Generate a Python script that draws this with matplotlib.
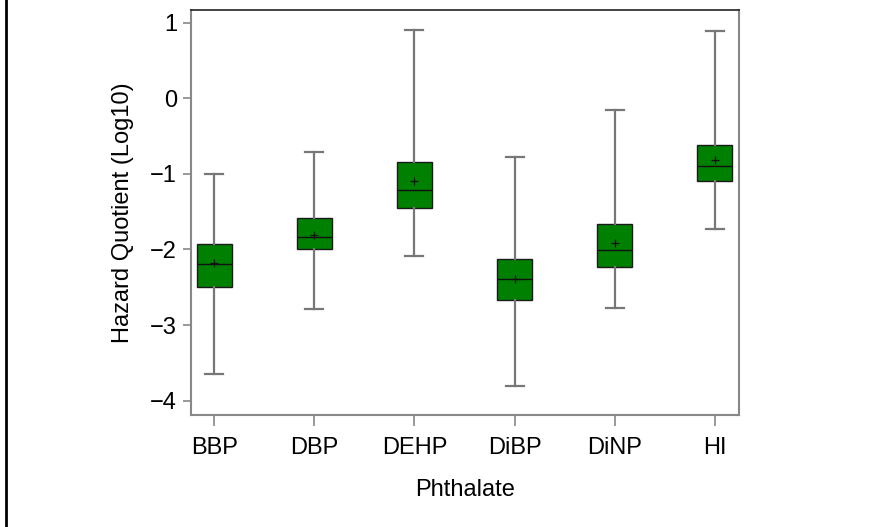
import matplotlib.pyplot as plt
from matplotlib.lines import Line2D

plt.rcParams["font.family"] = ["Liberation Sans", "DejaVu Sans"]

# Resumen por ftalato (log10 del cociente de riesgo)
ftalatos = ["BBP", "DBP", "DEHP", "DiBP", "DiNP", "HI"]
bigote_sup = [-1.00, -0.71, 0.90, -0.77, -0.16, 0.89]
q3 = [-1.93, -1.59, -0.84, -2.13, -1.66, -0.62]
mediana = [-2.19, -1.83, -1.21, -2.39, -2.01, -0.90]
media = [-2.18, -1.81, -1.09, -2.39, -1.92, -0.82]
q1 = [-2.49, -1.99, -1.45, -2.67, -2.23, -1.10]
bigote_inf = [-3.65, -2.79, -2.09, -3.81, -2.77, -1.73]

stats = []
for i, nombre in enumerate(ftalatos):
    stats.append({
        "label": nombre,
        "whishi": bigote_sup[i],
        "q3": q3[i],
        "med": mediana[i],
        "mean": media[i],
        "q1": q1[i],
        "whislo": bigote_inf[i],
        "fliers": [],
    })

fig = plt.figure(figsize=(8.77, 5.27), dpi=100)
ax = fig.add_axes([0.2178, 0.2125, 0.6249, 0.7685])

ax.bxp(
    stats,
    positions=range(1, len(ftalatos) + 1),
    widths=0.35,
    patch_artist=True,
    showmeans=True,
    showfliers=False,
    capwidths=0.18,
    boxprops=dict(facecolor="#008000", edgecolor="#1a1a1a", linewidth=1.0),
    medianprops=dict(color="#111111", linewidth=1.0),
    whiskerprops=dict(color="#777777", linewidth=1.6),
    capprops=dict(color="#777777", linewidth=1.6),
    meanprops=dict(marker="+", markersize=6, markeredgecolor="#111111",
                   markeredgewidth=0.9),
)

ax.set_xlim(0.767, 6.243)
ax.set_ylim(-4.19, 1.168)
ax.set_yticks([1, 0, -1, -2, -3, -4])
ax.set_yticklabels(["1", "0", "\u22121", "\u22122", "\u22123", "\u22124"])

for lado in ["left", "bottom", "right"]:
    ax.spines[lado].set_color("#888888")
    ax.spines[lado].set_linewidth(1.5)
ax.spines["top"].set_color("#222222")
ax.spines["top"].set_linewidth(1.2)

ax.tick_params(axis="x", length=8, width=1.2, color="#888888", labelsize=17, pad=8)
ax.tick_params(axis="y", length=6, width=1.2, color="#888888", labelsize=17, pad=4)

ax.set_xlabel("Phthalate", fontsize=17, labelpad=14)
ax.set_ylabel("Hazard Quotient (Log10)", fontsize=17, labelpad=12)

# Marco izquierdo de la figura
fig.add_artist(Line2D([0.0068, 0.0068], [0, 1], transform=fig.transFigure,
                      color="black", linewidth=2))

fig.savefig("out.png", dpi=100)
